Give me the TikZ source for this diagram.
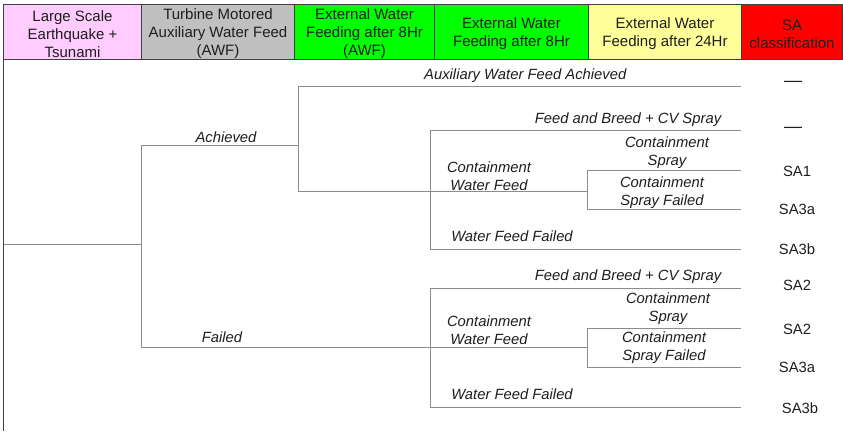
\documentclass[tikz,border=0pt]{standalone}
\usepackage{fontspec}
\setmainfont{Liberation Sans}
\definecolor{cpink}{HTML}{FFCCFF}
\definecolor{cgray}{HTML}{C0C0C0}
\definecolor{cgreen}{HTML}{00FF00}
\definecolor{cyellow}{HTML}{FFFF99}
\definecolor{cred}{HTML}{FF0000}
\definecolor{linegray}{HTML}{8C8C8C}
\definecolor{txt}{HTML}{1E1E1E}
\begin{document}
\begin{tikzpicture}[x=1pt,y=-1pt,
  hdr/.style={draw=black!75, line width=1pt, minimum height=55pt, inner sep=0pt,
    anchor=north west, align=center, text=txt,
    font=\fontsize{15}{18}\selectfont},
  hdrtext/.style={inner sep=0pt, align=center, text=txt, font=\fontsize{15}{18}\selectfont},
  br/.style={draw=linegray, line width=0.9pt},
  lbl/.style={inner sep=0pt, align=center, text=txt, font=\fontsize{14.8}{18}\selectfont\itshape},
  res/.style={inner sep=0pt, text=txt, font=\fontsize{14.8}{18}\selectfont}]
\useasboundingbox (0,0) rectangle (843,431);
\fill[white] (0,0) rectangle (843,431);
% header cells
\node[hdr, fill=cpink, minimum width=138pt] (h1) at (3,4) {};
\node[hdr, fill=cgray, minimum width=153pt] (h2) at (141,4) {};
\node[hdr, fill=cgreen, minimum width=140pt] (h3) at (294,4) {};
\node[hdr, fill=cgreen, minimum width=154pt] (h4) at (434,4) {};
\node[hdr, fill=cyellow, minimum width=153pt] (h5) at (588,4) {};
\node[hdr, fill=cred, minimum width=101pt] (h6) at (741,4) {};
% header texts
\node[hdrtext] (t1) at ([yshift=-2pt]h1.center) {Large Scale\\Earthquake +\\Tsunami};
\node[hdrtext] (t2) at ([yshift=-2pt]h2.center) {Turbine Motored\\Auxiliary Water Feed\\(AWF)};
\node[hdrtext] (t3) at ([yshift=-2pt]h3.center) {External Water\\Feeding after 8Hr\\(AWF)};
\node[hdrtext] (t4) at ([yshift=-2pt]h4.center) {External Water\\Feeding after 8Hr};
\node[hdrtext] (t5) at ([yshift=-2pt]h5.center) {External Water\\Feeding after 24Hr};
\node[hdrtext] (t6) at ([yshift=-2pt]h6.center) {SA\\classification};
% body left border
\coordinate (bl) at (3,431);
\draw[draw=black!75, line width=1pt] (h1.south west) -- (bl);
% tree coordinates
\coordinate (root) at (4,244);
\coordinate (j1) at (141,244);
\coordinate (a1) at (298,145);
\coordinate (e1) at (741,86);
\coordinate (c1) at (430,191);
\coordinate (e2) at (741,130);
\coordinate (s1) at (587,191);
\coordinate (e3) at (741,170);
\coordinate (e4) at (741,209);
\coordinate (e5) at (741,249);
\coordinate (f1) at (430,347);
\coordinate (s2) at (587,347);
\coordinate (e6) at (741,288);
\coordinate (e7) at (741,328);
\coordinate (e8) at (741,367);
\coordinate (e9) at (741,407);
% branches
\draw[br] (root) -- (j1);
\draw[br] (j1) |- (a1);
\draw[br] (j1) |- (s2);
\draw[br] (a1) |- (e1);
\draw[br] (a1) |- (c1);
\draw[br] (c1) |- (e2);
\draw[br] (c1) -- (s1);
\draw[br] (c1) |- (e5);
\draw[br] (s1) |- (e3);
\draw[br] (s1) |- (e4);
\draw[br] (f1) |- (e6);
\draw[br] (f1) |- (e9);
\draw[br] (s2) |- (e7);
\draw[br] (s2) |- (e8);
% labels
\node[lbl, anchor=west] (l1) at (424,76) {Auxiliary Water Feed Achieved};
\node[lbl] (l2) at (226,137) {Achieved};
\node[lbl] (l3) at (628,120) {Feed and Breed + CV Spray};
\node[lbl] (l4) at (489,176) {Containment\\Water Feed};
\node[lbl] (l5) at (667,153) {Containment\\Spray};
\node[lbl] (l6) at (662,193) {Containment\\Spray Failed};
\node[lbl] (l7) at (512,236) {Water Feed Failed};
\node[lbl] (l8) at (222,337) {Failed};
\node[lbl] (l9) at (628,277) {Feed and Breed + CV Spray};
\node[lbl] (l10) at (489,330) {Containment\\Water Feed};
\node[lbl] (l11) at (668,309) {Containment\\Spray};
\node[lbl] (l12) at (664,348) {Containment\\Spray Failed};
\node[lbl] (l13) at (512,394) {Water Feed Failed};
% results
\node[res, font=\fontsize{18}{18}\selectfont] (r1) at (793,84) {—};
\node[res, font=\fontsize{18}{18}\selectfont] (r2) at (793,130) {—};
\node[res] (r3) at (797,171) {SA1};
\node[res] (r4) at (797,209) {SA3a};
\node[res] (r5) at (797,249) {SA3b};
\node[res] (r6) at (797,285) {SA2};
\node[res] (r7) at (797,329) {SA2};
\node[res] (r8) at (797,367) {SA3a};
\node[res] (r9) at (800,408) {SA3b};
\end{tikzpicture}
\end{document}
